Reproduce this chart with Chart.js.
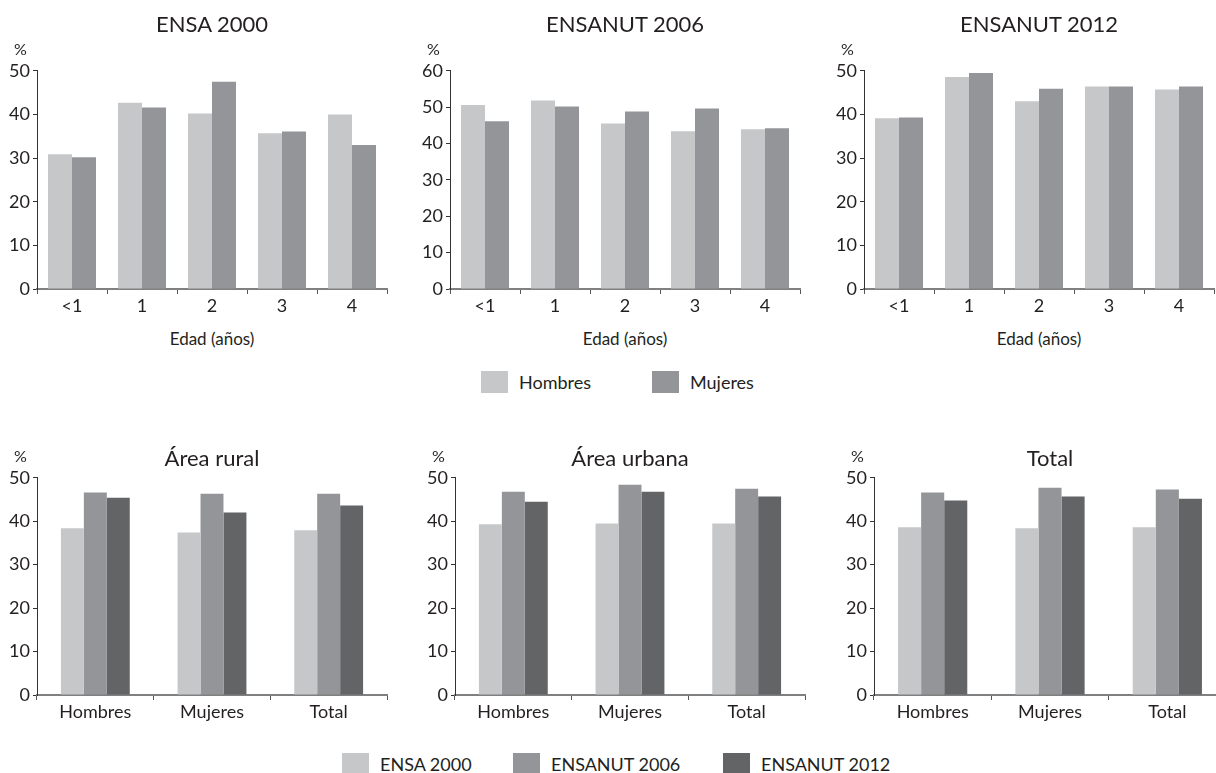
<!DOCTYPE html>
<html>
<head>
<meta charset="utf-8">
<script src="https://cdn.jsdelivr.net/npm/chart.js@4"></script>
<style>
  html, body { margin: 0; padding: 0; background: #fff; }
  body { width: 1216px; height: 773px; position: relative; overflow: hidden; font-family: Lato, "Open Sans", sans-serif; color: #231f20; }
  .box { position: absolute; }
  .txt { position: absolute; white-space: nowrap; line-height: 1; }
  .title { font-size: 22px; transform: translateX(-50%); }
  .pct { font-size: 16px; }
  .axt { font-size: 17px; transform: translateX(-50%); }
  .leg { position: absolute; display: flex; align-items: center; font-size: 18px; }
  .sw { width: 27px; height: 22px; margin-right: 11px; }
</style>
</head>
<body>
<div id="root"></div>
<script>
'use strict';

// ---- data ----
const ageLabels = ['<1', '1', '2', '3', '4'];
const sexLabels = ['Hombres', 'Mujeres', 'Total'];
const surveyNames = ['ENSA 2000', 'ENSANUT 2006', 'ENSANUT 2012'];

const ensa2000Hombres = [30.9, 42.7, 40.2, 35.7, 40.0];
const ensa2000Mujeres = [30.2, 41.6, 47.5, 36.1, 33.0];
const ensanut2006Hombres = [50.6, 51.8, 45.5, 43.4, 43.9];
const ensanut2006Mujeres = [46.1, 50.2, 48.8, 49.6, 44.2];
const ensanut2012Hombres = [39.1, 48.6, 43.0, 46.4, 45.7];
const ensanut2012Mujeres = [39.3, 49.5, 45.9, 46.4, 46.4];

const ruralEnsa2000 = [38.4, 37.4, 37.9];
const ruralEnsanut2006 = [46.6, 46.3, 46.3];
const ruralEnsanut2012 = [45.4, 42.0, 43.6];
const urbanaEnsa2000 = [39.3, 39.5, 39.5];
const urbanaEnsanut2006 = [46.8, 48.4, 47.5];
const urbanaEnsanut2012 = [44.5, 46.8, 45.7];
const totalEnsa2000 = [38.6, 38.4, 38.6];
const totalEnsanut2006 = [46.6, 47.7, 47.3];
const totalEnsanut2012 = [44.8, 45.7, 45.2];

// ---- styling ----
const LIGHT = '#c6c7c9', MID = '#939598', DARK = '#636466';
const FONT = 'Lato, "Open Sans", sans-serif';
const YW = 40, PT = 12, XH = 30, PR = 4;

const root = document.getElementById('root');

function addText(cls, text, x, y) {
  const d = document.createElement('div');
  d.className = 'txt ' + cls;
  d.textContent = text;
  d.style.left = x + 'px';
  d.style.top = y + 'px';
  root.appendChild(d);
}

function makeChart(box, labels, datasets, yMax, catPct) {
  const wrap = document.createElement('div');
  wrap.className = 'box';
  wrap.style.left = (box.L - YW) + 'px';
  wrap.style.top = (box.T - PT) + 'px';
  wrap.style.width = (box.W + YW + PR) + 'px';
  wrap.style.height = (box.H + PT + XH) + 'px';
  const cv = document.createElement('canvas');
  wrap.appendChild(cv);
  root.appendChild(wrap);

  new Chart(cv.getContext('2d'), {
    type: 'bar',
    data: { labels, datasets: datasets.map(([data, color]) => ({
      data, backgroundColor: color, borderWidth: 0,
      barPercentage: 1, categoryPercentage: catPct
    })) },
    options: {
      responsive: true,
      maintainAspectRatio: false,
      animation: false,
      layout: { padding: { top: PT, right: PR, left: 0, bottom: 0 } },
      plugins: { legend: { display: false }, tooltip: { enabled: false } },
      scales: {
        x: {
          afterFit: (s) => { s.height = XH; },
          border: { display: true, color: '#808080', width: 2 },
          grid: { display: true, drawOnChartArea: false, drawTicks: true, tickLength: 5, color: '#555', lineWidth: 1 },
          ticks: { color: '#231f20', font: { size: 18, family: FONT }, padding: 1, maxRotation: 0 }
        },
        y: {
          min: 0, max: yMax,
          afterFit: (s) => { s.width = YW; },
          border: { display: true, color: '#333', width: 1 },
          grid: { display: true, drawOnChartArea: false, drawTicks: true, tickLength: 4, color: '#333', lineWidth: 1 },
          ticks: { stepSize: 10, color: '#231f20', font: { size: 18, family: FONT }, padding: 3 }
        }
      }
    }
  });

  addText('pct', '%', box.L - 23, box.T - 28);
}

// ---- top row: by age ----
const topRow = [
  { L: 37,  T: 69, W: 350, H: 220, title: 'ENSA 2000',    h: ensa2000Hombres,    m: ensa2000Mujeres,    max: 50 },
  { L: 450, T: 69, W: 350, H: 220, title: 'ENSANUT 2006', h: ensanut2006Hombres, m: ensanut2006Mujeres, max: 60 },
  { L: 864, T: 69, W: 350, H: 220, title: 'ENSANUT 2012', h: ensanut2012Hombres, m: ensanut2012Mujeres, max: 50 }
];
topRow.forEach((c) => {
  makeChart(c, ageLabels, [[c.h, LIGHT], [c.m, MID]], c.max, 0.686);
  addText('title', c.title, c.L + c.W / 2, 13);
  addText('axt', 'Edad (años)', c.L + c.W / 2, 330);
});

// ---- bottom row: by area ----
const bottomRow = [
  { L: 37,  T: 476, W: 350, H: 219, title: 'Área rural',  d: [ruralEnsa2000, ruralEnsanut2006, ruralEnsanut2012] },
  { L: 455, T: 476, W: 350, H: 219, title: 'Área urbana', d: [urbanaEnsa2000, urbanaEnsanut2006, urbanaEnsanut2012] },
  { L: 874, T: 476, W: 352, H: 219, title: 'Total',       d: [totalEnsa2000, totalEnsanut2006, totalEnsanut2012] }
];
bottomRow.forEach((c) => {
  makeChart(c, sexLabels, [[c.d[0], LIGHT], [c.d[1], MID], [c.d[2], DARK]], 50, 0.59);
  addText('title', c.title, c.L + c.W / 2, 447);
});

// ---- legends ----
function addLegend(items, y) {
  items.forEach(([label, color, x]) => {
    const d = document.createElement('div');
    d.className = 'leg';
    d.style.left = x + 'px';
    d.style.top = y + 'px';
    const sw = document.createElement('div');
    sw.className = 'sw';
    sw.style.background = color;
    const t = document.createElement('span');
    t.textContent = label;
    d.appendChild(sw);
    d.appendChild(t);
    root.appendChild(d);
  });
}
addLegend([['Hombres', LIGHT, 481], ['Mujeres', MID, 652]], 371);
addLegend([[surveyNames[0], LIGHT, 342], [surveyNames[1], MID, 513], [surveyNames[2], DARK, 723]], 753);
</script>
</body>
</html>
